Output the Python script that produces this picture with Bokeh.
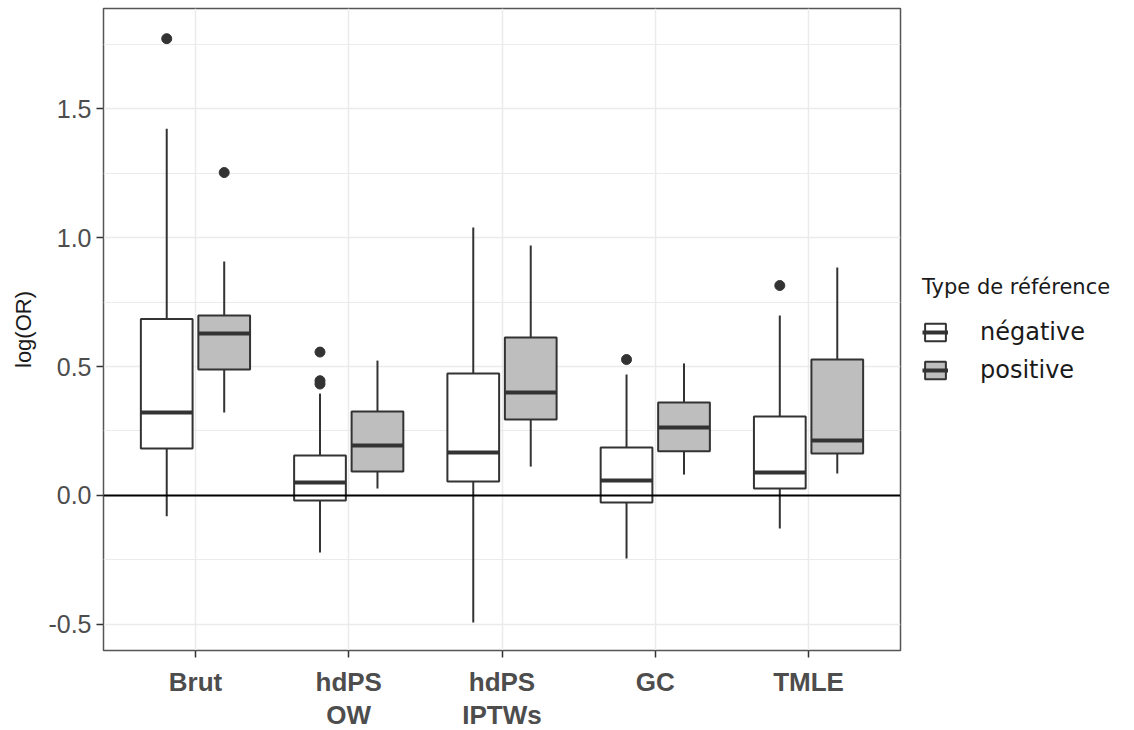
import numpy as np
from bokeh.plotting import figure
from bokeh.models import (ColumnDataSource, Range1d, FixedTicker, PrintfTickFormatter,
                          Span, Legend, LegendItem)
from bokeh.embed import file_html
from bokeh.resources import INLINE

# ---------------- data ----------------
categories = ["Brut", "hdPS\nOW", "hdPS\nIPTWs", "GC", "TMLE"]

neg_low  = [-0.081, -0.221, -0.492, -0.244, -0.128]
neg_q1   = [0.182, -0.019, 0.054, -0.027, 0.027]
neg_med  = [0.322, 0.050, 0.167, 0.058, 0.089]
neg_q3   = [0.684, 0.155, 0.473, 0.186, 0.306]
neg_high = [1.422, 0.395, 1.039, 0.469, 0.698]

pos_low  = [0.322, 0.027, 0.112, 0.081, 0.085]
pos_q1   = [0.488, 0.093, 0.295, 0.171, 0.163]
pos_med  = [0.628, 0.194, 0.399, 0.264, 0.213]
pos_q3   = [0.698, 0.326, 0.612, 0.360, 0.527]
pos_high = [0.907, 0.523, 0.969, 0.512, 0.884]

neg_out_cat = [0, 1, 1, 1, 3, 4]
neg_out_val = [1.771, 0.556, 0.445, 0.432, 0.527, 0.814]
pos_out_cat = [0]
pos_out_val = [1.252]

y_ticks = [-0.5, 0.0, 0.5, 1.0, 1.5]
y_minor = [-0.25, 0.25, 0.75, 1.25, 1.75]

# ---------------- figure ----------------
p = figure(frame_width=797, frame_height=642, output_backend="svg", toolbar_location=None,
           x_range=Range1d(0.4, 5.6), y_range=Range1d(-0.601, 1.888),
           min_border_left=103, min_border_right=232, min_border_top=8,
           min_border_bottom=0)
p.background_fill_color = "white"
p.border_fill_color = "white"
p.outline_line_color = "#555555"
p.outline_line_width = 1.5

# grids
p.xgrid.ticker = FixedTicker(ticks=list(range(1, 6)))
p.xgrid.grid_line_color = "#ebebeb"
p.xgrid.grid_line_width = 1.5
p.ygrid.grid_line_color = "#ebebeb"
p.ygrid.grid_line_width = 1.5
p.ygrid.minor_grid_line_color = "#ebebeb"
p.ygrid.minor_grid_line_width = 1.0

# axes
p.yaxis.ticker = FixedTicker(ticks=y_ticks, minor_ticks=y_minor)
p.yaxis.formatter = PrintfTickFormatter(format="%.1f")
p.yaxis.axis_label = "log(OR)"
p.yaxis.axis_label_text_font = "Liberation Sans"
p.yaxis.axis_label_text_font_size = "22px"
p.yaxis.axis_label_text_font_style = "normal"
p.yaxis.axis_label_text_color = "#1a1a1a"
p.yaxis.axis_label_standoff = 9
p.yaxis.major_label_text_font = "Liberation Sans"
p.yaxis.major_label_text_font_size = "25px"
p.yaxis.major_label_text_color = "#4d4d4d"
p.yaxis.major_label_standoff = 5

p.xaxis.ticker = FixedTicker(ticks=list(range(1, 6)), minor_ticks=[])
p.xaxis.major_label_overrides = {i + 1: c for i, c in enumerate(categories)}
p.xaxis.major_label_text_font = "Liberation Sans"
p.xaxis.major_label_text_font_style = "bold"
p.xaxis.major_label_text_font_size = "26px"
p.xaxis.major_label_text_color = "#4d4d4d"
p.xaxis.major_label_text_line_height = 1.12
p.xaxis.major_label_standoff = 9
for ax in (p.xaxis[0], p.yaxis[0]):
    ax.axis_line_color = None
    ax.major_tick_line_color = "#333333"
    ax.major_tick_line_width = 1.5
    ax.major_tick_out = 7
    ax.major_tick_in = 0
    ax.minor_tick_line_color = None

# ---------------- boxes ----------------
xc = np.arange(1, 6, dtype=float)
dodge = 0.1875
bw = 0.3375
line_col = "#333333"

src_neg = ColumnDataSource(dict(x=xc - dodge, low=neg_low, q1=neg_q1, med=neg_med,
                                q3=neg_q3, high=neg_high,
                                hw0=xc - dodge - bw / 2, hw1=xc - dodge + bw / 2))
src_pos = ColumnDataSource(dict(x=xc + dodge, low=pos_low, q1=pos_q1, med=pos_med,
                                q3=pos_q3, high=pos_high,
                                hw0=xc + dodge - bw / 2, hw1=xc + dodge + bw / 2))

renders = {}
for name, src, fill in (("neg", src_neg, "white"), ("pos", src_pos, "#bebebe")):
    p.segment(x0="x", y0="q3", x1="x", y1="high", source=src, line_color=line_col, line_width=2)
    p.segment(x0="x", y0="low", x1="x", y1="q1", source=src, line_color=line_col, line_width=2)
    box = p.vbar(x="x", width=bw, bottom="q1", top="q3", source=src, fill_color=fill,
                 line_color=line_col, line_width=2)
    med = p.segment(x0="hw0", y0="med", x1="hw1", y1="med", source=src,
                    line_color=line_col, line_width=4)
    renders[name] = (box, med)

p.scatter(x=[xc[i] - dodge for i in neg_out_cat], y=neg_out_val, size=10,
          color=line_col)
p.scatter(x=[xc[i] + dodge for i in pos_out_cat], y=pos_out_val, size=10,
          color=line_col)

p.add_layout(Span(location=0, dimension="width", line_color="black", line_width=1.8))

# ---------------- legend ----------------
legend = Legend(items=[LegendItem(label="négative", renderers=list(renders["neg"])),
                       LegendItem(label="positive", renderers=list(renders["pos"]))],
                title="Type de référence", location=(22, 265))
legend.title_text_font = "DejaVu Sans"
legend.title_text_font_size = "21px"
legend.title_text_font_style = "normal"
legend.title_text_color = "#1a1a1a"
legend.label_text_font = "DejaVu Sans"
legend.label_text_font_size = "24px"
legend.label_text_color = "#1a1a1a"
legend.glyph_width = 26
legend.glyph_height = 22
legend.label_standoff = 32
legend.label_height = 30
legend.spacing = 8
legend.title_standoff = 18
legend.padding = 0
legend.margin = 0
legend.border_line_color = None
legend.background_fill_alpha = 0
p.add_layout(legend, "right")

open("out.html", "w").write(file_html(p, INLINE))
